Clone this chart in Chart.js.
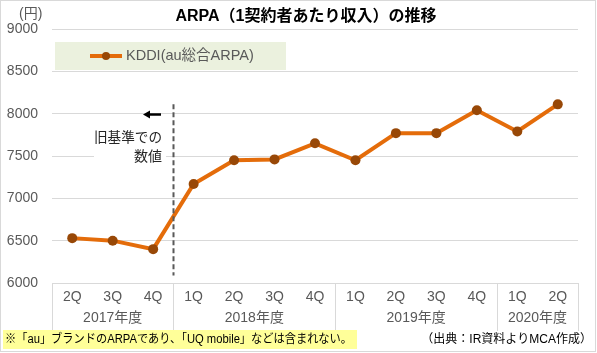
<!DOCTYPE html>
<html lang="ja">
<head>
<meta charset="UTF-8">
<title>ARPA推移</title>
<script src="https://cdn.jsdelivr.net/npm/chart.js"></script>
<style>
  html, body { margin: 0; padding: 0; background: #fff; }
  #wrap { position: relative; width: 597px; height: 353px; }
</style>
</head>
<body>
<div id="wrap"><canvas id="arpaChart" width="597" height="353"></canvas></div>

<script>
// データ
const quarters = ['2Q', '3Q', '4Q', '1Q', '2Q', '3Q', '4Q', '1Q', '2Q', '3Q', '4Q', '1Q', '2Q'];
const arpa = [6530, 6500, 6400, 7170, 7450, 7460, 7650, 7450, 7770, 7770, 8040, 7790, 8110];
const fiscalYears = ['2017年度', '2018年度', '2019年度', '2020年度'];
const yearStart = [0, 3, 7, 11];   // 各年度の最初のインデックス
const yearEnd = [2, 6, 10, 12];
const yTicks = [6000, 6500, 7000, 7500, 8000, 8500, 9000];

const jp = '"Liberation Sans", "Noto Sans CJK JP", sans-serif';
const gray = '#595959';
const lineGray = '#d9d9d9';

// 追加の描画（タイトル、凡例、年度ラベル、注記など）
const decorations = {
  id: 'decorations',
  beforeDraw(chart) {
    const ctx = chart.ctx;
    ctx.save();
    ctx.fillStyle = '#fff';
    ctx.fillRect(0, 0, chart.width, chart.height);
    ctx.restore();
  },
  afterDraw(chart) {
    const ctx = chart.ctx;
    const x = chart.scales.x;
    const y = chart.scales.y;
    const area = chart.chartArea;
    ctx.save();

    // 年度の区切り線とラベル
    const step = x.getPixelForValue(1) - x.getPixelForValue(0);
    ctx.strokeStyle = lineGray;
    ctx.lineWidth = 1;
    const bounds = [x.getPixelForValue(0) - step / 2];
    yearEnd.forEach(i => bounds.push(x.getPixelForValue(i) + step / 2));
    bounds.forEach(b => {
      const bx = Math.round(b) + 0.5;
      ctx.beginPath();
      ctx.moveTo(bx, area.bottom);
      ctx.lineTo(bx, 331);
      ctx.stroke();
    });
    ctx.fillStyle = gray;
    ctx.font = '14px ' + jp;
    ctx.textAlign = 'center';
    ctx.textBaseline = 'middle';
    fiscalYears.forEach((label, k) => {
      const cx = (x.getPixelForValue(yearStart[k]) + x.getPixelForValue(yearEnd[k])) / 2;
      ctx.fillText(label, cx, 318);
    });

    // 旧基準の区切り（破線）
    const dx = Math.round((x.getPixelForValue(2) + x.getPixelForValue(3)) / 2) + 0.5;
    ctx.strokeStyle = gray;
    ctx.lineWidth = 2;
    ctx.setLineDash([5, 3]);
    ctx.beginPath();
    ctx.moveTo(dx, y.getPixelForValue(8110));
    ctx.lineTo(dx, y.getPixelForValue(6090));
    ctx.stroke();
    ctx.setLineDash([]);

    // 注記
    ctx.fillStyle = '#fff';
    ctx.fillRect(94, 128, 72, 38);
    ctx.strokeStyle = '#000';
    ctx.lineWidth = 2.5;
    ctx.beginPath();
    ctx.moveTo(149, 114.5);
    ctx.lineTo(161, 114.5);
    ctx.stroke();
    ctx.fillStyle = '#000';
    ctx.beginPath();
    ctx.moveTo(143, 114.5);
    ctx.lineTo(150, 110.5);
    ctx.lineTo(150, 118.5);
    ctx.closePath();
    ctx.fill();
    ctx.fillStyle = '#262626';
    ctx.font = '14px ' + jp;
    ctx.textAlign = 'right';
    ctx.fillText('旧基準での', 162, 138, 68);
    ctx.fillText('数値', 162, 157);

    // 凡例
    ctx.fillStyle = '#ebf1de';
    ctx.fillRect(55, 42, 231, 28);
    const ds = chart.data.datasets[0];
    ctx.strokeStyle = ds.borderColor;
    ctx.lineWidth = 4;
    ctx.beginPath();
    ctx.moveTo(90, 56);
    ctx.lineTo(122, 56);
    ctx.stroke();
    ctx.fillStyle = ds.pointBackgroundColor;
    ctx.beginPath();
    ctx.arc(106, 56, 4, 0, Math.PI * 2);
    ctx.fill();
    ctx.fillStyle = gray;
    ctx.textAlign = 'left';
    ctx.font = '14.5px ' + jp;
    ctx.fillText(ds.label, 126, 56);

    // タイトル・単位
    ctx.fillStyle = '#000';
    ctx.textAlign = 'center';
    ctx.font = 'bold 16px ' + jp;
    ctx.fillText('ARPA（1契約者あたり収入）の推移', 306, 17);
    ctx.fillStyle = gray;
    ctx.font = '14px ' + jp;
    ctx.textAlign = 'left';
    ctx.fillText('(円)', 19, 14);

    // 脚注
    ctx.fillStyle = '#ffff99';
    ctx.fillRect(3, 330, 354, 19);
    ctx.fillStyle = '#000';
    ctx.font = '12px ' + jp;
    ctx.textAlign = 'left';
    ctx.fillText('※「au」ブランドのARPAであり、「UQ mobile」などは含まれない。', 5, 340, 347);
    ctx.textAlign = 'right';
    ctx.fillText('（出典：IR資料よりMCA作成）', 592, 340);

    // 外枠
    ctx.strokeStyle = lineGray;
    ctx.lineWidth = 1;
    ctx.strokeRect(0.5, 0.5, chart.width - 2, chart.height - 2);
    ctx.restore();
  }
};

const ctx = document.getElementById('arpaChart').getContext('2d');
new Chart(ctx, {
  type: 'line',
  data: {
    labels: quarters,
    datasets: [{
      label: 'KDDI(au総合ARPA)',
      data: arpa,
      borderColor: '#e46c0a',
      borderWidth: 4,
      pointRadius: 5,
      pointBackgroundColor: '#984807',
      pointBorderColor: '#984807',
      pointBorderWidth: 0,
      tension: 0
    }]
  },
  options: {
    responsive: false,
    animation: false,
    devicePixelRatio: 1,
    layout: { padding: { left: 0, right: 19, top: 29, bottom: 0 } },
    plugins: {
      legend: { display: false },
      tooltip: { enabled: false }
    },
    scales: {
      x: {
        offset: true,
        afterFit: s => { s.height = 70; },
        grid: { display: false, drawTicks: false, offset: true },
        border: { display: true, color: lineGray, width: 1 },
        ticks: {
          color: gray,
          font: { size: 14, family: jp },
          padding: 6,
          maxRotation: 0,
          autoSkip: false
        }
      },
      y: {
        min: 6000,
        max: 9000,
        afterFit: s => { s.width = 52; },
        afterBuildTicks: s => { s.ticks = yTicks.map(v => ({ value: v })); },
        grid: { color: lineGray, drawTicks: false },
        border: { display: false },
        ticks: {
          color: gray,
          font: { size: 14, family: jp },
          padding: 14,
          callback: v => String(v)
        }
      }
    }
  },
  plugins: [decorations]
});
</script>
</body>
</html>
